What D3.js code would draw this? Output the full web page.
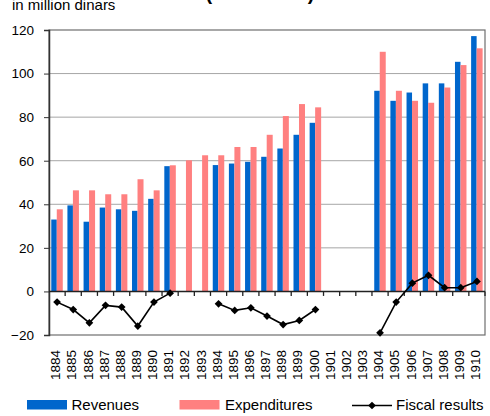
<!DOCTYPE html>
<html>
<head>
<meta charset="utf-8">
<script src="https://cdn.jsdelivr.net/npm/d3@7"></script>
<style>
  html, body { margin: 0; padding: 0; background: #fff; }
  svg { display: block; font-family: "Liberation Sans", Arial, sans-serif; }
</style>
</head>
<body>
<svg id="chart" width="490" height="416"></svg>
<script>
const years = ["1884","1885","1886","1887","1888","1889","1890","1891","1892","1893","1894","1895","1896","1897","1898","1899","1900","1901","1902","1903","1904","1905","1906","1907","1908","1909","1910"];
const revenues = [33, 39.5, 32, 38.5, 37.7, 37, 42.5, 57.5, null, null, 58, 58.7, 59.5, 61.8, 65.6, 71.9, 77.4, null, null, null, 92.1, 87.5, 91.3, 95.5, 95.5, 105.4, 117.2];
const expenditures = [37.7, 46.4, 46.4, 44.6, 44.6, 51.5, 46.4, 57.9, 60.2, 62.5, 62.5, 66.3, 66.3, 71.9, 80.5, 86, 84.5, null, null, null, 110, 92.1, 87.5, 86.6, 93.6, 103.9, 111.6];
const fiscal = [-4.9, -8.3, -14.4, -6.4, -7.2, -15.9, -4.9, -0.8, null, null, -5.7, -8.7, -7.5, -11.3, -15.2, -13.3, -8.3, null, null, null, -19, -4.9, 3.8, 7.4, 1.7, 1.7, 4.6];
const yTicks = [-20, 0, 20, 40, 60, 80, 100, 120];
const titleText = "(1884-1910)";
const unitText = "in million dinars";
const seriesNames = ["Revenues", "Expenditures", "Fiscal results"];
const colors = { rev: "#0066CC", exp: "#FF8080", line: "#000000" };

(function () {
const svg = d3.select("#chart");
const pL = 49, pR = 485, pT = 30, pB = 335;

const x = d3.scaleBand().domain(years).range([pL, pR]).padding(0);
const y = d3.scaleLinear().domain([-20, 120]).range([pB, pT]);
const bw = 5.5;

// title (clipped at top, as in the reference)
svg.append("text").attr("x", 260).attr("y", 0)
  .attr("text-anchor", "middle").attr("font-weight", "bold").attr("font-size", 20)
  .text(titleText);
svg.append("text").attr("x", 12).attr("y", 10).attr("font-size", 15).attr("fill", "#000").text(unitText);

// gridlines
svg.append("g").selectAll("line").data(yTicks.filter(t => t > -20 && t < 120 && t !== 0)).join("line")
  .attr("x1", pL).attr("x2", pR).attr("y1", d => y(d)).attr("y2", d => y(d))
  .attr("stroke", "#a6a6a6").attr("stroke-width", 1);

// plot border
svg.append("rect").attr("x", pL).attr("y", y(120)).attr("width", pR - pL).attr("height", y(-20) - y(120))
  .attr("fill", "none").attr("stroke", "#6e6e6e").attr("stroke-width", 1.2);

// bars
const data = years.map((yr, i) => ({ yr, rev: revenues[i], exp: expenditures[i], fis: fiscal[i] }));
svg.append("g").selectAll("rect").data(data.filter(d => d.rev != null)).join("rect")
  .attr("x", d => x(d.yr) + x.bandwidth() / 2 - bw - 0.3)
  .attr("width", bw).attr("y", d => y(d.rev)).attr("height", d => y(0) - y(d.rev))
  .attr("fill", colors.rev);
svg.append("g").selectAll("rect").data(data.filter(d => d.exp != null)).join("rect")
  .attr("x", d => x(d.yr) + x.bandwidth() / 2 - 0.3)
  .attr("width", bw + 0.5).attr("y", d => y(d.exp)).attr("height", d => y(0) - y(d.exp))
  .attr("fill", colors.exp);

// y axis
const yAxis = d3.axisLeft(y).tickValues(yTicks).tickSize(5).tickPadding(10).tickFormat(d3.format("d"));
const gy = svg.append("g").attr("transform", `translate(${pL},0)`).call(yAxis);
gy.select(".domain").attr("stroke", "#333").attr("stroke-width", 1.5);
gy.selectAll(".tick line").attr("stroke", "#333");
gy.selectAll(".tick text").attr("font-size", 13.5).attr("font-family", "Liberation Sans, Arial, sans-serif").attr("fill", "#000");

// zero line with category ticks
svg.append("line").attr("x1", pL).attr("x2", pR).attr("y1", y(0)).attr("y2", y(0))
  .attr("stroke", "#222").attr("stroke-width", 1.5);
svg.append("g").selectAll("line").data(years.slice(1).concat(["end"])).join("line")
  .attr("x1", d => d === "end" ? pR : x(d)).attr("x2", d => d === "end" ? pR : x(d))
  .attr("y1", y(0)).attr("y2", y(0) + 4.5).attr("stroke", "#222").attr("stroke-width", 1.3);

// x labels
svg.append("g").selectAll("text").data(years).join("text")
  .attr("transform", d => `translate(${x(d) + x.bandwidth() / 2 + 3.2},350) rotate(-90)`)
  .attr("text-anchor", "end").attr("font-size", 13.5).attr("fill", "#000").text(d => d);

// fiscal line
const line = d3.line().defined(d => d.fis != null)
  .x(d => x(d.yr) + x.bandwidth() / 2).y(d => y(d.fis));
svg.append("path").datum(data).attr("d", line).attr("fill", "none")
  .attr("stroke", colors.line).attr("stroke-width", 1.6);
const diamond = d3.symbol().type(d3.symbolSquare).size(30);
svg.append("g").selectAll("path").data(data.filter(d => d.fis != null)).join("path")
  .attr("d", diamond)
  .attr("transform", d => `translate(${x(d.yr) + x.bandwidth() / 2},${y(d.fis)}) rotate(45)`)
  .attr("fill", colors.line);

// legend
const lg = svg.append("g");
lg.append("rect").attr("x", 27).attr("y", 400).attr("width", 40).attr("height", 9.5).attr("fill", colors.rev);
lg.append("text").attr("x", 71.5).attr("y", 410).attr("font-size", 15).text(seriesNames[0]);
lg.append("rect").attr("x", 179.5).attr("y", 400).attr("width", 40).attr("height", 9.5).attr("fill", colors.exp);
lg.append("text").attr("x", 225).attr("y", 410).attr("font-size", 15).text(seriesNames[1]);
lg.append("line").attr("x1", 352).attr("x2", 392).attr("y1", 405.5).attr("y2", 405.5).attr("stroke", colors.line).attr("stroke-width", 1.6);
lg.append("path").attr("d", diamond).attr("transform", "translate(372,405.5) rotate(45)").attr("fill", colors.line);
lg.append("text").attr("x", 396).attr("y", 410).attr("font-size", 15).text(seriesNames[2]);
})();
</script>
</body>
</html>
